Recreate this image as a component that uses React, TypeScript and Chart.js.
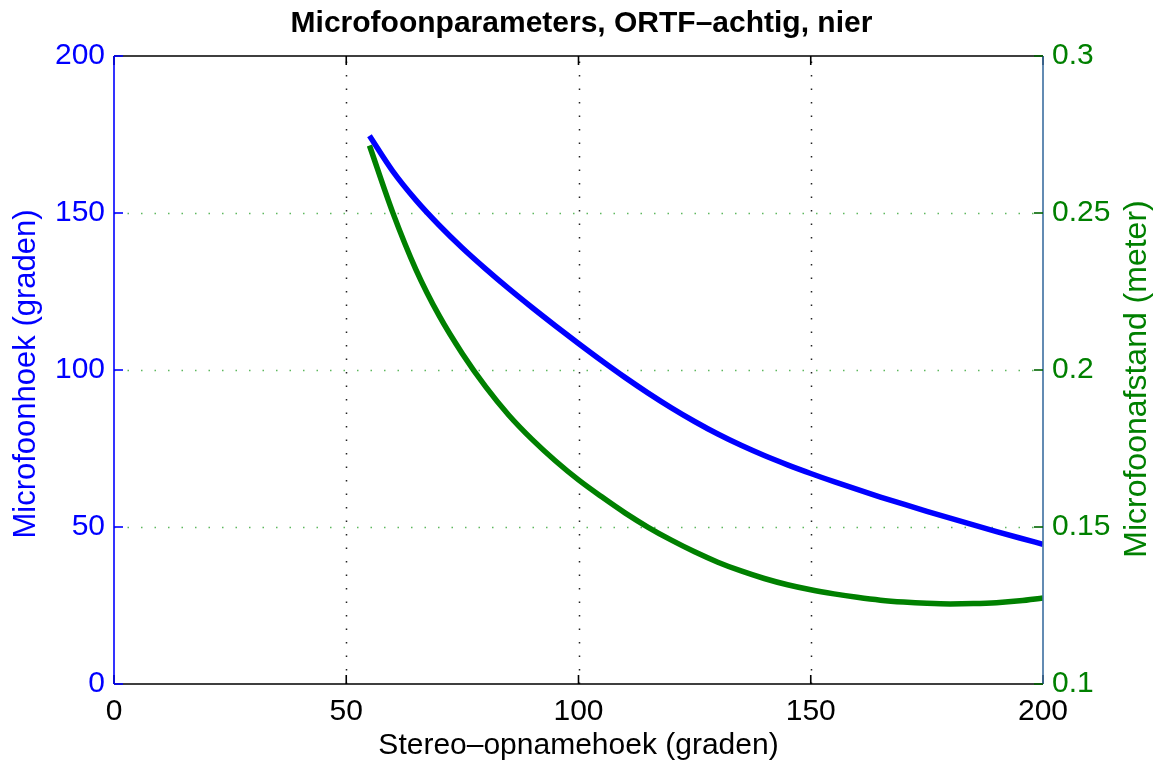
import React, { useEffect, useRef } from "react";
import { Chart, registerables } from "chart.js";

Chart.register(...registerables);

// ---- Data ----
const opnamehoek = [55, 60, 65, 70, 75, 80, 85, 90, 95, 100, 105, 110, 115, 120, 125, 130, 135, 140, 145, 150, 155, 160, 165, 170, 175, 180, 185, 190, 195, 200];
const microfoonhoek = [174.6, 163.35, 154.1, 146.1, 138.85, 132.2, 125.9, 119.9, 114.1, 108.45, 102.95, 97.65, 92.65, 87.95, 83.6, 79.6, 76.0, 72.75, 69.8, 67.05, 64.45, 61.95, 59.55, 57.25, 55.0, 52.8, 50.65, 48.55, 46.5, 44.5];
const microfoonafstand = [0.2715, 0.2502, 0.232, 0.2173, 0.2052, 0.1947, 0.1856, 0.1779, 0.1711, 0.165, 0.1596, 0.1545, 0.1499, 0.1458, 0.1421, 0.1388, 0.136, 0.1336, 0.1316, 0.13, 0.1287, 0.1276, 0.1267, 0.1261, 0.1257, 0.1255, 0.1256, 0.1259, 0.1265, 0.1274];

const xTicks = [0, 50, 100, 150, 200];
const leftTicks = [0, 50, 100, 150, 200];
const rightTicks = [0.1, 0.15, 0.2, 0.25, 0.3];
const rightTickLabels = ["0.1", "0.15", "0.2", "0.25", "0.3"];

const titleText = "Microfoonparameters, ORTF\u2013achtig, nier";
const xTitle = "Stereo\u2013opnamehoek (graden)";
const leftTitle = "Microfoonhoek (graden)";
const rightTitle = "Microfoonafstand (meter)";

const FONT = "'Liberation Sans', Arial, Helvetica, sans-serif";
const BLUE = "#0000ff";
const GREEN = "#008000";

const framePlugin = {
  id: "matlabFrame",
  beforeDatasetsDraw(chart: any) {
    const { ctx, chartArea: a, scales } = chart;
    ctx.save();
    ctx.lineWidth = 1.5;
    ctx.setLineDash([1.5, 12]);
    ctx.strokeStyle = "#222";
    xTicks.forEach((v, i) => {
      if (i === 0 || i === xTicks.length - 1) return;
      const px = Math.round(scales.x.getPixelForValue(v)) + 0.5;
      ctx.beginPath();
      ctx.moveTo(px, a.bottom);
      ctx.lineTo(px, a.top);
      ctx.stroke();
    });
    ctx.strokeStyle = "rgba(40,160,40,0.75)";
    rightTicks.forEach((v, i) => {
      if (i === 0 || i === rightTicks.length - 1) return;
      const py = Math.round(scales.y1.getPixelForValue(v)) + 0.5;
      ctx.beginPath();
      ctx.moveTo(a.left, py);
      ctx.lineTo(a.right, py);
      ctx.stroke();
    });
    ctx.restore();
  },
  afterDatasetsDraw(chart: any) {
    const { ctx, chartArea: a, scales } = chart;
    const tl = 9;
    ctx.save();
    ctx.setLineDash([]);
    ctx.lineWidth = 1.6;
    ctx.strokeStyle = "#000";
    ctx.beginPath();
    ctx.moveTo(a.left, a.bottom);
    ctx.lineTo(a.right, a.bottom);
    ctx.moveTo(a.left, a.top);
    ctx.lineTo(a.right, a.top);
    ctx.stroke();
    xTicks.forEach((v) => {
      const px = scales.x.getPixelForValue(v);
      ctx.beginPath();
      ctx.moveTo(px, a.bottom);
      ctx.lineTo(px, a.bottom - tl);
      ctx.moveTo(px, a.top);
      ctx.lineTo(px, a.top + tl);
      ctx.stroke();
    });
    ctx.strokeStyle = BLUE;
    ctx.beginPath();
    ctx.moveTo(a.left, a.bottom);
    ctx.lineTo(a.left, a.top);
    ctx.stroke();
    leftTicks.forEach((v) => {
      const py = scales.y.getPixelForValue(v);
      ctx.beginPath();
      ctx.moveTo(a.left, py);
      ctx.lineTo(a.left + tl, py);
      ctx.stroke();
    });
    ctx.strokeStyle = "rgb(60,110,160)";
    ctx.beginPath();
    ctx.moveTo(a.right, a.bottom);
    ctx.lineTo(a.right, a.top);
    ctx.stroke();
    ctx.strokeStyle = "#006400";
    rightTicks.forEach((v) => {
      const py = scales.y1.getPixelForValue(v);
      ctx.beginPath();
      ctx.moveTo(a.right, py);
      ctx.lineTo(a.right - tl, py);
      ctx.stroke();
    });
    ctx.restore();
  },
  afterDraw(chart: any) {
    const { ctx, chartArea: a } = chart;
    ctx.save();
    ctx.textAlign = "center";
    ctx.textBaseline = "middle";
    ctx.fillStyle = "#000";
    ctx.font = `bold 30px ${FONT}`;
    ctx.fillText(titleText, (a.left + a.right) / 2 + 3, 24);
    ctx.font = `30px ${FONT}`;
    ctx.fillText(xTitle, (a.left + a.right) / 2, 746);
    ctx.save();
    ctx.translate(26, 374);
    ctx.rotate(-Math.PI / 2);
    ctx.font = `31px ${FONT}`;
    ctx.fillStyle = BLUE;
    ctx.fillText(leftTitle, 0, 0);
    ctx.restore();
    ctx.save();
    ctx.translate(1137, 379);
    ctx.rotate(-Math.PI / 2);
    ctx.font = `32px ${FONT}`;
    ctx.fillStyle = GREEN;
    ctx.fillText(rightTitle, 0, 0);
    ctx.restore();
    ctx.restore();
  },
};

export default function App() {
  const ref = useRef<HTMLCanvasElement>(null);
  useEffect(() => {
    if (!ref.current) return;
    const chart = new Chart(ref.current, {
      type: "line",
      data: {
        datasets: [
          {
            label: "Microfoonhoek",
            data: opnamehoek.map((x, i) => ({ x, y: microfoonhoek[i] })),
            borderColor: BLUE,
            borderWidth: 5.5,
            pointRadius: 0,
            cubicInterpolationMode: "monotone",
            yAxisID: "y",
            xAxisID: "x",
          },
          {
            label: "Microfoonafstand",
            data: opnamehoek.map((x, i) => ({ x, y: microfoonafstand[i] })),
            borderColor: GREEN,
            borderWidth: 5.5,
            pointRadius: 0,
            cubicInterpolationMode: "monotone",
            yAxisID: "y1",
            xAxisID: "x",
          },
        ],
      },
      options: {
        responsive: false,
        animation: false,
        layout: { padding: { top: 56, left: 0, right: 0, bottom: 0 } },
        plugins: { legend: { display: false }, tooltip: { enabled: false }, title: { display: false } },
        scales: {
          x: {
            type: "linear",
            position: "bottom",
            min: 0,
            max: 200,
            afterBuildTicks: (s: any) => {
              s.ticks = xTicks.map((v) => ({ value: v }));
            },
            afterFit: (s: any) => {
              s.height = 83;
            },
            grid: { display: false, drawTicks: false },
            border: { display: false },
            ticks: { color: "#000", font: { family: FONT, size: 30 }, padding: 10, maxRotation: 0, autoSkip: false },
          },
          y: {
            type: "linear",
            position: "left",
            min: 0,
            max: 200,
            afterBuildTicks: (s: any) => {
              s.ticks = leftTicks.map((v) => ({ value: v }));
            },
            afterFit: (s: any) => {
              s.width = 114;
            },
            grid: { display: false, drawTicks: false },
            border: { display: false },
            ticks: { color: BLUE, font: { family: FONT, size: 30 }, padding: 9, autoSkip: false },
          },
          y1: {
            type: "linear",
            position: "right",
            min: 0.1,
            max: 0.3,
            afterBuildTicks: (s: any) => {
              s.ticks = rightTicks.map((v) => ({ value: v }));
            },
            afterFit: (s: any) => {
              s.width = 117;
            },
            grid: { display: false, drawTicks: false },
            border: { display: false },
            ticks: {
              color: GREEN,
              font: { family: FONT, size: 30 },
              padding: 9,
              autoSkip: false,
              callback: (_v: any, i: number) => rightTickLabels[i],
            },
          },
        },
      },
      plugins: [framePlugin],
    } as any);
    return () => chart.destroy();
  }, []);
  return (
    <div style={{ position: "absolute", left: 0, top: 0, width: 1160, height: 767, background: "#fff" }}>
      <canvas ref={ref} width={1160} height={767} style={{ display: "block" }} />
    </div>
  );
}
